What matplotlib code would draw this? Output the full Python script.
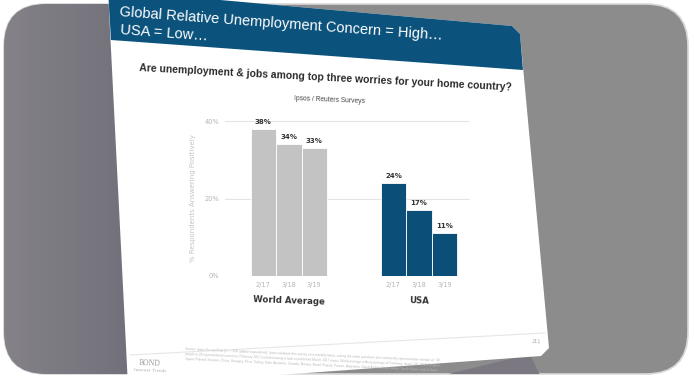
import numpy as np
import matplotlib.pyplot as plt
from matplotlib.patches import Polygon, FancyBboxPatch

# data
periods = ['2/17', '3/18', '3/19']
world_avg = [38, 34, 33]
usa = [24, 17, 11]
groups = ['World Average', 'USA']
yticks = [0, 20, 40]

W, H = 694, 380
fig = plt.figure(figsize=(W / 100, H / 100), dpi=100)
fig.patch.set_facecolor('white')

# background layer in pixel coords
bg = fig.add_axes([0, 0, 1, 1])
bg.set_xlim(0, W); bg.set_ylim(H, 0); bg.axis('off')

frame = FancyBboxPatch((4, 4), W - 10, H - 10, boxstyle='round,pad=0,rounding_size=42',
                       fc='#8c8c8c', ec='#d8d8d8', lw=1.2)
bg.add_patch(frame)
grad = np.linspace(0, 1, 256).reshape(1, -1)
im = bg.imshow(grad, extent=[0, 170, H, 0], cmap=plt.matplotlib.colors.LinearSegmentedColormap.from_list(
    'g', ['#858388', '#6c6a76']), aspect='auto', zorder=1)
im.set_clip_path(frame)
shadow = Polygon([[400, 386], [530, 354], [545, 386]], closed=True, fc='#7b7882', ec='none', zorder=1.5)
bg.add_patch(shadow)
shadow.set_clip_path(frame)

slide = Polygon([[108, -10], [512, 26], [520, 34], [549, 348], [541, 356], [128, 386]],
                closed=True, fc='white', ec='none', zorder=2)
bg.add_patch(slide)
header = Polygon([[108, -10], [512, 26], [520, 34], [523, 70], [111, 40]],
                 closed=True, fc='#0b527c', ec='none', zorder=3)
bg.add_patch(header)

bg.text(120, 12, 'Global Relative Unemployment Concern = High…', color='white', fontsize=10.5,
        family='Liberation Sans', rotation=-4.2, rotation_mode='anchor', va='center', zorder=4)
bg.text(120, 30, 'USA = Low…', color='white', fontsize=10.5, family='Liberation Sans',
        rotation=-4.2, rotation_mode='anchor', va='center', zorder=4)
bg.text(326, 78, 'Are unemployment & jobs among top three worries for your home country?',
        color='#2b2b2b', fontsize=7.5, fontweight='bold', family='Liberation Sans',
        rotation=-3.0, ha='center', va='center', zorder=4)
bg.text(330, 100, 'Ipsos / Reuters Surveys', color='#444444', fontsize=4.8,
        family='Liberation Sans', rotation=-2.5, ha='center', va='center', zorder=4)

# footer
bg.plot([130, 545], [355, 333], color='#e6e6e6', lw=0.8, zorder=4)
bg.text(150, 363, 'BOND', color='#9a9a9a', fontsize=5.5, family='Liberation Serif',
        ha='center', va='center', rotation=-2, zorder=4)
bg.text(150, 371, 'Internet Trends', color='#b0b0b0', fontsize=3.8, family='Liberation Serif',
        ha='center', va='center', rotation=-2, zorder=4)
src = ('Source: Ipsos Survey Data (n = ~20K global respondents). Ipsos conducts this survey on a monthly basis, asking the same questions of a statistically representative sample of ~1K\n'
       'people in 28 representative countries. February 2017 included swing to look at published March 2017 report. World average reflects average of Germany, Israel, UK, USA, Belgium,\n'
       'Japan, Poland, Sweden, China, Hungary, Peru, Turkey, India, Australia, Canada, Mexico, Brazil, Russia, France, Argentina, Saudi Arabia, South Africa, South Korea, Italy & Spain.')
bg.text(185, 354, src, color='#b8b8b8', fontsize=2.3, family='Liberation Sans', linespacing=1.3,
        rotation=-2.6, rotation_mode='anchor', ha='left', va='center', zorder=4)
bg.text(536, 342, '211', color='#aaaaaa', fontsize=3.5, ha='center', va='center', rotation=-3, zorder=4)

# chart
ax = fig.add_axes([225 / W, 1 - 276 / H, 245 / W, (276 - 121) / H], zorder=5)
ax.patch.set_alpha(0)
xw = np.array([0, 1, 2]) + 1.5
xu = np.array([0, 1, 2]) + 6.6
ax.bar(xw, world_avg, width=1.0, color='#c3c3c3', edgecolor='white', linewidth=0.6, zorder=3)
ax.bar(xu, usa, width=1.0, color='#0b4f78', edgecolor='white', linewidth=0.6, zorder=3)
for x, v in zip(np.concatenate([xw, xu]), world_avg + usa):
    ax.text(x, v + 1.0, f'{v}%', ha='center', va='bottom', fontsize=5, fontweight='bold',
            color='#333333')
ax.set_xlim(0, 9.6)
ax.set_ylim(0, 40)
ax.set_yticks(yticks)
ax.set_yticklabels([f'{t}%' for t in yticks])
ax.grid(axis='y', color='#e4e4e4', lw=0.8, zorder=0)
ax.set_xticks(np.concatenate([xw, xu]))
ax.set_xticklabels(periods * 2)
ax.tick_params(length=0, labelsize=4.8, labelcolor='#b5b5b5', pad=4)
for s in ax.spines.values():
    s.set_visible(False)
ax.set_ylabel('% Respondents Answering Positively', fontsize=5, color='#c4c4c4', labelpad=6)
ax.text(xw[1], -6.5, groups[0], ha='center', va='center', fontsize=6.2, fontweight='bold',
        color='#333333', rotation=-2)
ax.text(xu[1], -6.5, groups[1], ha='center', va='center', fontsize=6.2, fontweight='bold',
        color='#333333', rotation=-2)

fig.savefig('out.png', dpi=100)
